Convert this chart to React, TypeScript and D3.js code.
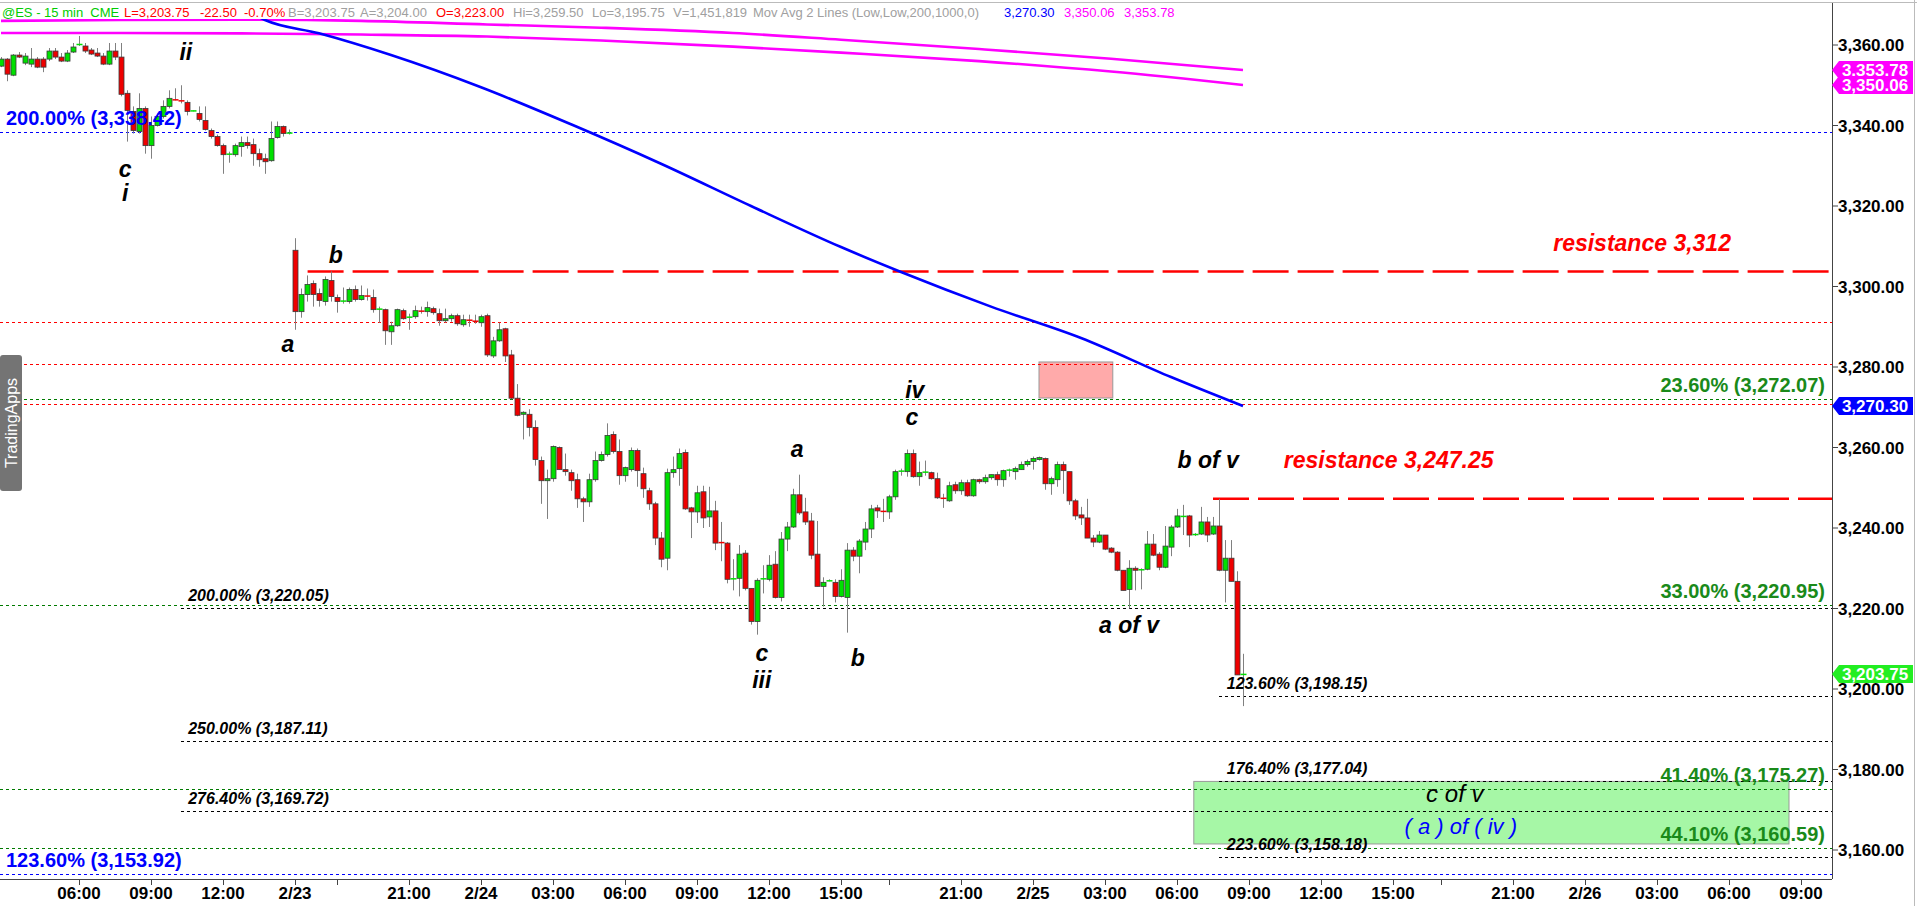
import React, { useEffect } from 'react';
import * as d3 from 'd3';

// [open, high, low, close] for each 15-min bar, left to right
const bars: [number, number, number, number][] = [
  [3354.75, 3357.0, 3354.5, 3356.5], [3356.5, 3356.75, 3351.0, 3352.75], [3352.5, 3357.75, 3352.25, 3357.5],
  [3357.5, 3358.25, 3356.75, 3357.0], [3355.5, 3358.0, 3355.0, 3357.25], [3355.25, 3359.25, 3354.5, 3356.5],
  [3356.5, 3357.0, 3354.25, 3354.5], [3356.5, 3357.0, 3353.25, 3354.5], [3356.5, 3359.25, 3356.0, 3358.5],
  [3358.5, 3359.25, 3356.5, 3357.0], [3357.0, 3358.0, 3355.75, 3356.0], [3356.0, 3358.75, 3355.75, 3358.0],
  [3358.25, 3360.5, 3358.0, 3359.5], [3360.0, 3362.25, 3359.75, 3360.25], [3359.75, 3360.5, 3358.0, 3358.5],
  [3358.75, 3359.25, 3357.5, 3357.75], [3358.0, 3359.25, 3357.0, 3357.25], [3357.25, 3358.0, 3355.0, 3355.25],
  [3355.25, 3360.5, 3355.0, 3358.5], [3358.5, 3360.5, 3356.25, 3357.0], [3357.0, 3360.5, 3347.25, 3347.75],
  [3348.0, 3348.75, 3336.0, 3343.75], [3343.5, 3344.75, 3338.0, 3338.75], [3338.5, 3348.0, 3338.0, 3344.25],
  [3344.25, 3344.75, 3333.0, 3335.0], [3335.0, 3342.25, 3331.75, 3340.0], [3340.0, 3343.0, 3339.75, 3342.25],
  [3342.25, 3346.25, 3341.75, 3344.75], [3344.75, 3348.75, 3344.25, 3346.75], [3346.5, 3349.25, 3346.25, 3346.25],
  [3346.25, 3350.0, 3345.5, 3346.0], [3345.75, 3346.25, 3342.5, 3343.5], [3343.5, 3343.75, 3343.5, 3343.75],
  [3343.0, 3344.75, 3341.0, 3341.5], [3341.25, 3344.75, 3338.75, 3339.0], [3338.75, 3339.25, 3336.75, 3337.25],
  [3337.25, 3337.75, 3334.75, 3335.0], [3335.0, 3335.5, 3328.0, 3332.75], [3332.75, 3333.5, 3330.75, 3333.0],
  [3332.75, 3335.5, 3332.25, 3335.0], [3334.75, 3337.25, 3332.25, 3335.75], [3335.75, 3337.25, 3334.25, 3335.0],
  [3335.25, 3336.75, 3330.0, 3333.0], [3333.0, 3334.25, 3329.75, 3331.5], [3331.75, 3333.0, 3328.0, 3331.0],
  [3331.25, 3341.0, 3331.0, 3336.75], [3337.0, 3341.0, 3336.75, 3339.75], [3339.75, 3340.0, 3337.25, 3338.0],
  [3338.0, 3339.0, 3337.75, 3338.25],
  [3309.0, 3312.0, 3289.25, 3293.75], [3293.75, 3299.5, 3292.25, 3298.0], [3298.0, 3302.75, 3296.25, 3300.5],
  [3300.75, 3301.5, 3295.0, 3298.0], [3298.25, 3299.5, 3295.0, 3296.5], [3296.25, 3302.5, 3295.25, 3301.75],
  [3301.5, 3303.75, 3296.25, 3297.5], [3297.25, 3298.0, 3293.5, 3296.25], [3296.25, 3299.75, 3295.75, 3296.5],
  [3296.25, 3299.75, 3295.75, 3299.25], [3299.25, 3300.25, 3296.25, 3296.75], [3296.75, 3300.25, 3296.5, 3297.75],
  [3297.75, 3299.5, 3296.5, 3297.5], [3297.25, 3299.25, 3293.5, 3294.25], [3294.25, 3295.0, 3291.0, 3294.5],
  [3294.25, 3294.5, 3285.5, 3289.0], [3288.75, 3291.25, 3285.5, 3290.25], [3290.25, 3294.5, 3290.0, 3294.25],
  [3294.0, 3294.5, 3291.75, 3292.0], [3292.25, 3293.25, 3289.25, 3292.5], [3292.5, 3295.25, 3292.0, 3294.0],
  [3294.0, 3295.0, 3293.25, 3293.75], [3293.75, 3296.25, 3292.5, 3294.75], [3294.5, 3295.0, 3293.0, 3293.5],
  [3293.25, 3294.5, 3290.25, 3291.5], [3291.5, 3294.5, 3291.0, 3292.0], [3292.0, 3293.25, 3291.25, 3292.75],
  [3292.75, 3293.25, 3290.25, 3290.75], [3290.5, 3293.0, 3290.0, 3291.75], [3291.75, 3293.0, 3290.0, 3291.5],
  [3291.5, 3293.0, 3290.75, 3291.25], [3291.0, 3293.0, 3290.0, 3292.5], [3292.75, 3293.25, 3282.5, 3283.0],
  [3282.75, 3287.5, 3282.25, 3286.5], [3286.5, 3291.0, 3286.25, 3289.25], [3289.5, 3289.75, 3281.25, 3282.75],
  [3283.0, 3284.25, 3272.0, 3272.25], [3272.25, 3275.75, 3267.75, 3268.0], [3268.25, 3269.0, 3262.0, 3268.75],
  [3268.25, 3269.5, 3262.75, 3265.0], [3265.0, 3266.75, 3255.5, 3257.0], [3256.75, 3257.75, 3246.0, 3251.75],
  [3251.75, 3254.5, 3242.25, 3252.25], [3252.25, 3260.5, 3251.5, 3260.25], [3260.0, 3260.25, 3254.5, 3254.5],
  [3254.5, 3258.5, 3253.0, 3254.0], [3253.75, 3254.5, 3249.25, 3251.75], [3252.0, 3253.5, 3245.0, 3247.25],
  [3247.25, 3247.75, 3241.5, 3246.5], [3246.5, 3253.5, 3245.25, 3252.0], [3252.0, 3259.0, 3251.5, 3256.75],
  [3256.75, 3259.0, 3256.5, 3258.25], [3258.25, 3266.0, 3257.75, 3263.0], [3263.25, 3264.0, 3258.5, 3259.0],
  [3259.0, 3262.0, 3250.75, 3253.0], [3253.0, 3255.25, 3251.5, 3255.0], [3254.5, 3260.0, 3254.0, 3259.25],
  [3259.25, 3259.75, 3250.25, 3254.25], [3253.5, 3255.0, 3247.5, 3249.75], [3249.25, 3250.0, 3244.5, 3246.0],
  [3246.0, 3246.5, 3235.75, 3237.5], [3237.5, 3239.0, 3230.25, 3232.25], [3232.5, 3254.75, 3229.5, 3253.75],
  [3253.75, 3257.75, 3252.5, 3254.5], [3254.75, 3259.75, 3250.5, 3258.5], [3258.75, 3259.5, 3244.5, 3244.75],
  [3245.0, 3245.25, 3237.5, 3244.0], [3244.0, 3250.5, 3241.25, 3248.75], [3249.0, 3250.5, 3240.0, 3242.5],
  [3242.75, 3250.25, 3240.25, 3244.25], [3244.25, 3246.75, 3234.5, 3236.25], [3236.5, 3241.5, 3231.75, 3236.25],
  [3236.25, 3236.5, 3226.25, 3227.25], [3227.25, 3232.25, 3224.5, 3227.5], [3227.5, 3235.75, 3223.0, 3233.5],
  [3233.75, 3234.5, 3224.5, 3225.0], [3225.0, 3225.0, 3216.0, 3216.75], [3216.75, 3227.5, 3213.5, 3227.0],
  [3227.25, 3230.75, 3223.75, 3227.5], [3227.25, 3233.25, 3226.75, 3230.75], [3231.0, 3234.25, 3222.5, 3222.75],
  [3222.75, 3239.0, 3221.75, 3237.25], [3237.25, 3241.5, 3234.25, 3240.25], [3240.25, 3249.75, 3240.0, 3248.25],
  [3248.25, 3253.25, 3243.25, 3243.75], [3244.0, 3247.5, 3240.75, 3241.5], [3241.75, 3243.75, 3232.25, 3233.25],
  [3233.5, 3241.75, 3225.5, 3225.5], [3225.5, 3227.75, 3220.5, 3226.5], [3226.75, 3227.25, 3226.75, 3227.0],
  [3226.5, 3227.25, 3221.5, 3223.0], [3223.0, 3229.75, 3222.75, 3227.0], [3222.75, 3236.25, 3214.0, 3234.5],
  [3234.5, 3235.25, 3231.75, 3233.0], [3233.0, 3237.25, 3228.75, 3236.75], [3236.5, 3241.5, 3234.5, 3239.75],
  [3239.75, 3245.75, 3237.5, 3244.75], [3245.0, 3245.75, 3242.5, 3244.25], [3244.25, 3247.25, 3241.5, 3244.0],
  [3244.0, 3248.25, 3242.25, 3247.75], [3247.75, 3254.5, 3247.0, 3254.0], [3254.0, 3254.75, 3253.0, 3254.25],
  [3254.0, 3259.5, 3252.75, 3258.5], [3258.5, 3259.5, 3252.5, 3252.75], [3252.75, 3256.5, 3250.5, 3253.75],
  [3253.75, 3256.75, 3253.0, 3254.0], [3253.75, 3254.0, 3252.0, 3252.25], [3252.25, 3253.75, 3247.25, 3247.5],
  [3247.5, 3248.5, 3245.0, 3247.25], [3246.75, 3251.5, 3246.5, 3250.5], [3250.75, 3251.5, 3248.5, 3249.25],
  [3249.25, 3252.0, 3248.25, 3251.25], [3251.25, 3252.0, 3247.75, 3248.0], [3248.0, 3252.25, 3247.75, 3252.0],
  [3252.0, 3252.25, 3251.0, 3251.5], [3251.5, 3253.25, 3251.0, 3252.5], [3252.5, 3253.25, 3252.0, 3253.25],
  [3253.25, 3254.0, 3250.5, 3252.0], [3252.0, 3254.5, 3250.25, 3254.25], [3254.25, 3254.75, 3252.75, 3254.5],
  [3254.0, 3255.25, 3252.0, 3254.75], [3254.5, 3256.5, 3254.5, 3255.75], [3255.75, 3257.0, 3255.25, 3256.5],
  [3256.5, 3257.75, 3254.5, 3257.25], [3257.0, 3257.75, 3256.75, 3257.5], [3257.25, 3257.5, 3249.5, 3251.0],
  [3251.0, 3252.75, 3248.25, 3252.25], [3252.0, 3256.5, 3250.25, 3255.75], [3255.75, 3256.5, 3248.5, 3254.25],
  [3254.0, 3254.0, 3245.75, 3246.75], [3246.75, 3247.25, 3242.0, 3243.0], [3243.25, 3245.25, 3240.75, 3242.5],
  [3242.5, 3247.25, 3237.5, 3237.5], [3237.5, 3238.25, 3235.25, 3236.5], [3236.5, 3239.25, 3236.25, 3238.25],
  [3238.25, 3238.25, 3234.5, 3234.75], [3235.0, 3235.25, 3233.75, 3234.0], [3234.0, 3234.25, 3229.25, 3229.5],
  [3229.5, 3229.5, 3224.5, 3224.5], [3224.75, 3232.0, 3220.0, 3230.0], [3230.0, 3230.5, 3224.5, 3229.5],
  [3229.5, 3230.0, 3224.75, 3229.75], [3229.75, 3239.25, 3229.5, 3236.0], [3236.0, 3238.5, 3233.0, 3233.25],
  [3233.5, 3234.0, 3229.5, 3230.25], [3230.25, 3240.5, 3230.0, 3235.5], [3235.25, 3240.75, 3233.0, 3240.25],
  [3240.25, 3244.75, 3240.0, 3243.0], [3242.75, 3245.75, 3238.25, 3243.0], [3243.0, 3243.25, 3235.25, 3238.25],
  [3238.25, 3238.75, 3238.0, 3238.5], [3238.5, 3245.25, 3238.25, 3241.5], [3241.5, 3242.75, 3236.5, 3238.25],
  [3238.5, 3242.75, 3238.25, 3240.5], [3240.5, 3247.25, 3229.25, 3229.5], [3229.5, 3237.0, 3221.5, 3232.5],
  [3232.5, 3237.0, 3226.75, 3226.75], [3226.75, 3229.25, 3203.5, 3203.5], [3203.5, 3208.75, 3195.75, 3203.75],
];

// Moving averages read at a few bars: [bar index, value]
const maSlowUpper: [number, number][] = [
  [0, 3366.0], [20, 3366.2], [40, 3366.3], [60, 3366.0], [81, 3365.1], [100, 3364.3], [122, 3363.0],
  [140, 3361.3], [163, 3359.0], [185, 3356.6], [207, 3353.78],
];
const maSlowLower: [number, number][] = [
  [0, 3363.0], [20, 3363.0], [40, 3362.9], [60, 3362.6], [81, 3362.1], [100, 3361.1], [122, 3359.6],
  [140, 3358.1], [163, 3356.0], [185, 3353.4], [207, 3350.06],
];
const maFast: [number, number][] = [
  [38, 3371.5], [44, 3366.2], [53, 3362.9], [65, 3357.5], [80, 3349.5], [95, 3340.3], [110, 3330.5],
  [125, 3320.0], [140, 3309.8], [150, 3303.6], [165, 3295.0], [180, 3287.2], [195, 3277.5], [207, 3270.3],
];

const priceTicks = [3360, 3340, 3320, 3300, 3280, 3260, 3240, 3220, 3200, 3180, 3160];
const timeTicks: [number, string][] = [
  [13, '06:00'], [25, '09:00'], [37, '12:00'], [49, '2/23'], [56, ''], [68, '21:00'], [80, '2/24'],
  [92, '03:00'], [104, '06:00'], [116, '09:00'], [128, '12:00'], [140, '15:00'], [148, ''], [160, '21:00'],
  [172, '2/25'], [184, '03:00'], [196, '06:00'], [208, '09:00'], [220, '12:00'], [232, '15:00'], [240, ''],
  [252, '21:00'], [264, '2/26'], [276, '03:00'], [288, '06:00'], [300, '09:00'],
];

// full-width dotted levels
const redLevels = [3291.1, 3280.66, 3270.72];
const greenLevels = [3272.07, 3220.95, 3175.27, 3160.59];
const greenLevelNames = ['23.60%', '33.00%', '41.40%', '44.10%'];
const blueLevels = [3338.42, 3153.92];
const blueLevelNames = ['200.00%', '123.60%'];
// extension levels (start bar)
const fibA = [3220.05, 3187.11, 3169.72];
const fibANames = ['200.00%', '250.00%', '276.40%'];
const fibB = [3198.15, 3177.04, 3158.18];
const fibBNames = ['123.60%', '176.40%', '223.60%'];

const resistance = [3303.75, 3247.25];

const waveLabels: [number, number, string][] = [
  [30.8, 3356.3, 'ii'], [20.7, 3327.2, 'c'], [20.7, 3321.3, 'i'], [47.8, 3283.7, 'a'], [55.8, 3305.8, 'b'],
  [152.3, 3272.3, 'iv'], [151.8, 3265.6, 'c'], [132.7, 3257.6, 'a'], [126.8, 3206.9, 'c'], [126.8, 3200.3, 'iii'],
  [142.8, 3205.7, 'b'], [201.2, 3254.9, 'b of v'], [188.0, 3213.9, 'a of v'],
];

const headerParts: [string, string, number][] = [
  ['@ES - 15 min  CME', '#00cc00', 2],
  ['L=3,203.75', '#ff0000', 124],
  ['-22.50', '#ff0000', 200],
  ['-0.70%', '#ff0000', 244],
  ['B=3,203.75', '#a0a0a0', 288],
  ['A=3,204.00', '#a0a0a0', 360],
  ['O=3,223.00', '#ff0000', 436],
  ['Hi=3,259.50', '#a0a0a0', 513],
  ['Lo=3,195.75', '#a0a0a0', 592],
  ['V=1,451,819', '#a0a0a0', 673],
  ['Mov Avg 2 Lines (Low,Low,200,1000,0)', '#a0a0a0', 753],
  ['3,270.30', '#0000ff', 1004],
  ['3,350.06', '#ff00ff', 1064],
  ['3,353.78', '#ff00ff', 1124],
];

const fmt = d3.format(',.2f');

export default function App() {
  useEffect(() => {
    document.body.style.margin = '0';
  }, []);

  const W = 1917, H = 906;
  const plotR = 1832, plotB = 879, plotT = 3;
  const x = d3.scaleLinear().domain([0, 305]).range([1, 1831]);
  const y = d3.scaleLinear().domain([3160, 3360]).range([850, 45]);
  const font = 'Liberation Sans, Arial, sans-serif';

  const line = d3.line<[number, number]>().x(d => x(d[0])).y(d => y(d[1])).curve(d3.curveMonotoneX);

  const dotted = (p: number, x0: number, color: string, key: string) => (
    <line key={key} x1={x0} x2={plotR} y1={Math.round(y(p)) + 0.5} y2={Math.round(y(p)) + 0.5}
      stroke={color} strokeWidth={1} strokeDasharray="3 3" />
  );

  const flag = (p: number, color: string, key: string) => {
    const yy = y(p);
    return (
      <g key={key}>
        <path d={`M${plotR},${yy} L${plotR + 7},${yy - 9} L1913,${yy - 9} L1913,${yy + 9} L${plotR + 7},${yy + 9} Z`} fill={color} />
        <text x={1875} y={yy + 6} textAnchor="middle" fontFamily={font} fontWeight="bold" fontSize={17} fill="#fff">{fmt(p)}</text>
      </g>
    );
  };

  return (
    <svg width={W} height={H} style={{ display: 'block', background: '#fff' }}>
      <defs>
        <clipPath id="plot"><rect x={0} y={plotT} width={plotR} height={plotB - plotT} /></clipPath>
      </defs>
      <rect x={0} y={0} width={W} height={H} fill="#fff" />
      <g clipPath="url(#plot)">
        {/* zones */}
        <rect x={x(173)} y={y(3281.25)} width={x(185.3) - x(173)} height={y(3272.3) - y(3281.25)} fill="#ffaaaa" stroke="#999" strokeWidth={1} />
        <rect x={x(198.8)} y={y(3177.04)} width={x(298) - x(198.8)} height={y(3161.5) - y(3177.04)} fill="#a6f7a6" stroke="#999" strokeWidth={1} />
        {redLevels.map((p, i) => dotted(p, 0, '#ff0000', 'r' + i))}
        {greenLevels.map((p, i) => dotted(p, 0, '#007a00', 'g' + i))}
        {blueLevels.map((p, i) => dotted(p, 0, '#0000ff', 'b' + i))}
        {fibA.map((p, i) => dotted(p, x(30), '#000', 'fa' + i))}
        {fibB.map((p, i) => dotted(p, x(203), '#000', 'fb' + i))}
        <line x1={x(51.1)} x2={plotR} y1={y(resistance[0])} y2={y(resistance[0])} stroke="#ff0000" strokeWidth={2.5} strokeDasharray="36 9" />
        <line x1={x(202)} x2={plotR} y1={y(resistance[1])} y2={y(resistance[1])} stroke="#ff0000" strokeWidth={2.5} strokeDasharray="36 9" />

        {/* candles */}
        {bars.map((b, i) => {
          const [o, h, l, c] = b;
          const cx = Math.round(x(i)) + 0.5;
          const up = c >= o;
          const top = y(Math.max(o, c)), bot = y(Math.min(o, c));
          const fill = up ? '#00e000' : '#ee0000';
          return (
            <g key={i}>
              <line x1={cx} x2={cx} y1={y(h)} y2={y(l)} stroke="#808080" strokeWidth={1} />
              {bot - top < 1.5
                ? <line x1={cx - 3} x2={cx + 3} y1={(top + bot) / 2} y2={(top + bot) / 2} stroke={fill} strokeWidth={1.5} />
                : <rect x={cx - 2.5} y={top} width={5} height={bot - top} fill={fill} stroke="#3a3a3a" strokeWidth={0.8} />}
            </g>
          );
        })}

        <path d={line(maSlowUpper) || ''} fill="none" stroke="#ff00ff" strokeWidth={2.6} />
        <path d={line(maSlowLower) || ''} fill="none" stroke="#ff00ff" strokeWidth={2.6} />
        <path d={line(maFast) || ''} fill="none" stroke="#0000ff" strokeWidth={2.6} />

        {/* labels */}
        {blueLevels.map((p, i) => (
          <text key={'bl' + i} x={6} y={y(p) - 7} fontFamily={font} fontWeight="bold" fontSize={20} fill="#0000ff">
            {`${blueLevelNames[i]} (${fmt(p)})`}
          </text>
        ))}
        {greenLevels.map((p, i) => (
          <text key={'gl' + i} x={1825} y={y(p) - 7} textAnchor="end" fontFamily={font} fontWeight="bold" fontSize={20} fill="#1a8a1a">
            {`${greenLevelNames[i]} (${fmt(p)})`}
          </text>
        ))}
        {fibA.map((p, i) => (
          <text key={'fal' + i} x={x(31.2)} y={y(p) - 7} fontFamily={font} fontWeight="bold" fontStyle="italic" fontSize={16} fill="#000">
            {`${fibANames[i]} (${fmt(p)})`}
          </text>
        ))}
        {fibB.map((p, i) => (
          <text key={'fbl' + i} x={x(204.3)} y={y(p) - 7} fontFamily={font} fontWeight="bold" fontStyle="italic" fontSize={16} fill="#000">
            {`${fibBNames[i]} (${fmt(p)})`}
          </text>
        ))}
        <text x={x(258.7)} y={y(3308.9)} fontFamily={font} fontWeight="bold" fontStyle="italic" fontSize={23} fill="#ff0000">resistance 3,312</text>
        <text x={x(213.8)} y={y(3255.0)} fontFamily={font} fontWeight="bold" fontStyle="italic" fontSize={23} fill="#ff0000">resistance 3,247.25</text>
        {waveLabels.map(([b, p, t], i) => (
          <text key={'w' + i} x={x(b)} y={y(p)} textAnchor="middle" fontFamily={font} fontWeight="bold" fontStyle="italic" fontSize={23} fill="#000">{t}</text>
        ))}
        <text x={x(242.3)} y={y(3172.0)} textAnchor="middle" fontFamily={font} fontStyle="italic" fontSize={24} fill="#000">c of v</text>
        <text x={x(243.3)} y={y(3163.9)} textAnchor="middle" fontFamily={font} fontStyle="italic" fontSize={22} fill="#0000ff">( a ) of ( iv )</text>

        {/* header (status line, opaque) */}
        <rect x={0} y={plotT} width={1180} height={16} fill="#fff" />
        <text y={17} fontFamily={font} fontSize={13} style={{ whiteSpace: 'pre' }}>
          {headerParts.map(([t, c, px], i) => (
            <tspan key={'h' + i} x={px} fill={c}>{t}</tspan>
          ))}
        </text>
      </g>

      {/* TradingApps tab */}
      <rect x={0} y={355} width={22} height={136} rx={3} fill="#747474" />
      <text transform="translate(16.5,423) rotate(-90)" textAnchor="middle" fontFamily={font} fontSize={16} fill="#fff">TradingApps</text>

      {/* axes */}
      <line x1={plotR + 0.5} x2={plotR + 0.5} y1={plotT} y2={plotB} stroke="#444" strokeWidth={1} />
      <line x1={0} x2={plotR} y1={plotB + 0.5} y2={plotB + 0.5} stroke="#444" strokeWidth={1} />
      <line x1={0} x2={W} y1={2.5} y2={2.5} stroke="#bbb" strokeWidth={1} />
      <line x1={1914.5} x2={1914.5} y1={0} y2={H} stroke="#bbb" strokeWidth={1} />
      {priceTicks.map(p => (
        <g key={'pt' + p}>
          <line x1={plotR} x2={plotR + 6} y1={y(p)} y2={y(p)} stroke="#444" />
          <text x={1838} y={y(p) + 6} fontFamily={font} fontWeight="bold" fontSize={17} fill="#000">{fmt(p)}</text>
        </g>
      ))}
      {timeTicks.map(([b, t]) => (
        <g key={'tt' + b}>
          <line x1={Math.round(x(b)) + 0.5} x2={Math.round(x(b)) + 0.5} y1={plotB} y2={plotB + 6} stroke="#444" />
          <text x={x(b)} y={plotB + 20} textAnchor="middle" fontFamily={font} fontWeight="bold" fontSize={17} fill="#000">{t}</text>
        </g>
      ))}
      {flag(3353.78, '#ff00ff', 'f1')}
      {flag(3350.06, '#ff00ff', 'f2')}
      {flag(3270.30, '#0000ff', 'f3')}
      {flag(3203.75, '#22ee22', 'f4')}
    </svg>
  );
}
